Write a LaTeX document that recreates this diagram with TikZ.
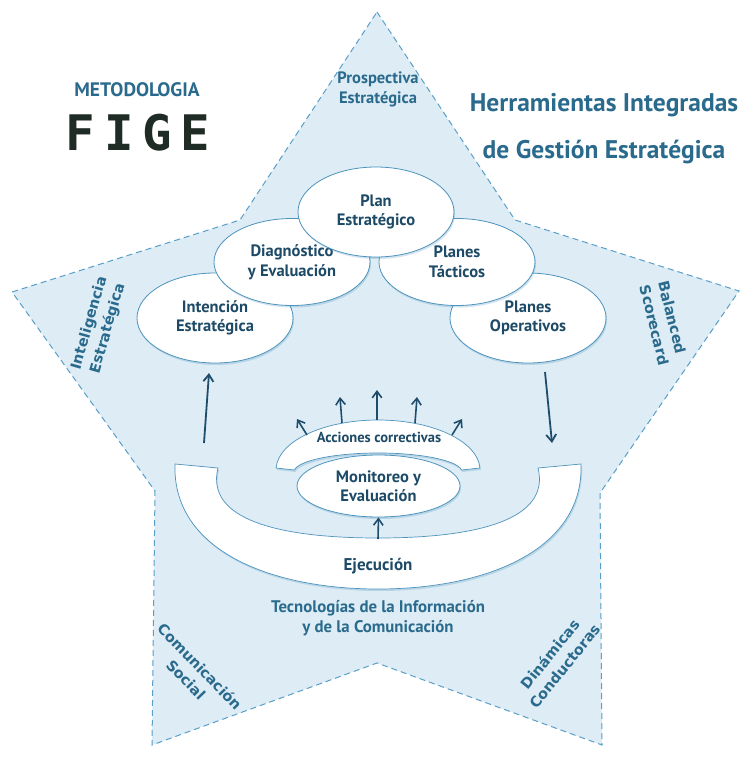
\documentclass[tikz,border=0pt]{standalone}
\usepackage{fontspec}
\setmainfont{PT Sans}
\newfontfamily\fuenteRot{DejaVu Sans}
\newfontfamily\fuenteFige[WordSpace=0.3]{DejaVu Sans Mono}
\usetikzlibrary{shapes.geometric, arrows.meta, shadows}

\definecolor{fondoEstrella}{HTML}{DDECF5}
\definecolor{bordeEstrella}{HTML}{5A9FC8}
\definecolor{bordeElipse}{HTML}{4D93BC}
\definecolor{textoOscuro}{HTML}{1D4A66}
\definecolor{textoAzul}{HTML}{2A6A8C}
\definecolor{colFlecha}{HTML}{1E4D6B}
\definecolor{colFige}{HTML}{1F2B25}

\begin{document}
\begin{tikzpicture}[x=1pt, y=-1pt,
    elipse/.style={ellipse, draw=bordeElipse, line width=0.8pt, fill=white, minimum width=156pt, minimum height=90pt, inner sep=0pt, align=center, text=textoOscuro, font=\fontsize{16.5}{19.5}\selectfont\bfseries, drop shadow={fill=bordeElipse, opacity=0.25, shadow xshift=1pt, shadow yshift=-2pt}},
    banda/.style={fill=white, draw=bordeElipse, line width=0.7pt, drop shadow={fill=bordeElipse, opacity=0.25, shadow xshift=1pt, shadow yshift=-2pt}},
    flecha/.style={draw=colFlecha, line width=1.8pt, -{Straight Barb[length=7pt, width=10pt]}},
    flechaFina/.style={draw=colFlecha, line width=1.6pt, -{Straight Barb[length=6.5pt, width=9.5pt]}},
    etqEstrella/.style={font=\fontsize{16.5}{20}\selectfont\bfseries, text=textoAzul, align=center},
    etqRot/.style={font=\fuenteRot\fontsize{14.5}{19}\selectfont\bfseries, text=textoAzul, align=center},
    titulo/.style={font=\fontsize{25.5}{30}\selectfont\bfseries, text=textoAzul, anchor=base}
  ]
  \useasboundingbox (0,0) rectangle (740,765);

  % --- estrella de fondo ---
  \filldraw[fill=fondoEstrella, draw=bordeEstrella, line width=1pt, dash pattern=on 6pt off 4pt]
    (377,12) -- (515,220) -- (739,291) -- (600,493) -- (602,745) -- (377,663)
    -- (152,745) -- (155,491) -- (12,292) -- (240,220) -- cycle;

  % --- titulos ---
  \node[font=\fontsize{19.5}{24}\selectfont\bfseries, text=textoAzul] (metodologia) at (137,90) {METODOLOGIA};
  \node[font=\fuenteFige\fontsize{49}{49}\selectfont\bfseries, text=colFige] (fige) at (138,133) {F I G E};
  \node[titulo] (herramientas) at (604,112) {Herramientas Integradas};
  \node[titulo] (gestion) at (604,158) {de Gestión Estratégica};

  % --- etiquetas de las puntas ---
  \node[etqEstrella] (prospectiva) at (378,89) {Prospectiva\\Estratégica};
  \node[etqRot, rotate=74] (inteligencia) at (99,326) {Inteligencia\\Estratégica};
  \node[etqRot, rotate=-76, align=left] (balanced) at (664,323) {Balanced\\Scorecard};
  \node[etqRot, rotate=-46] (comunicacion) at (193,673) {Comunicación\\Social};
  \node[etqRot, rotate=51] (dinamicas) at (557,660) {Dinámicas\\Conductoras};
  \node[etqEstrella, font=\fontsize{16.8}{20}\selectfont\bfseries] (tic) at (378,618) {Tecnologías de la Información\\y de la Comunicación};

  % --- banda de ejecucion ---
  \path[banda] (175,464) .. controls (172,550) and (270,589) .. (378,589)
    .. controls (486,589) and (584,550) .. (581,464) -- (538,468)
    .. controls (551,520) and (476,538) .. (378,538)
    .. controls (280,538) and (205,520) .. (218,468) -- cycle;
  \node[font=\fontsize{17}{20}\selectfont\bfseries, text=textoOscuro] (ejecucion) at (378,566) {Ejecución};

  % --- banda de acciones correctivas ---
  \path[banda] (276.1,468) arc[start angle=182.3, end angle=357.7, x radius=102, y radius=50]
    -- (461.5,470) arc[start angle=354, end angle=186, x radius=84, y radius=19] -- cycle;
  \node[font=\fontsize{14.5}{17}\selectfont\bfseries, text=textoOscuro] (acciones) at (379,437) {Acciones correctivas};

  % --- elipses del ciclo ---
  \node[elipse] (intencion) at (215,318) {Intención\\Estratégica};
  \node[elipse] (operativos) at (528,318) {Planes\\Operativos};
  \node[elipse, minimum height=87pt] (diagnostico) at (292,262) {Diagnóstico\\y Evaluación};
  \node[elipse, minimum height=87pt] (tacticos) at (457,262) {Planes\\Tácticos};
  \node[elipse] (plan) at (376,212) {Plan\\Estratégico};
  \node[elipse, minimum width=163pt, minimum height=62pt] (monitoreo) at (378.5,486) {Monitoreo y\\Evaluación};

  % --- flechas ---
  \coordinate (subeIzq) at (204,443);
  \coordinate (llegaIzq) at (209,373);
  \coordinate (saleDer) at (545,372);
  \coordinate (bajaDer) at (552,443);
  \coordinate (ejeCentro) at (378,539);
  \draw[flecha] (subeIzq) -- (llegaIzq);
  \draw[flecha] (saleDer) -- (bajaDer);
  \draw[flechaFina] (ejeCentro) -- (monitoreo.south);
  \foreach \i/\xa/\ya/\xb/\yb in {1/307/435/297/419, 2/342/423/340/397, 3/377/420/377/390, 4/415/423/417/397, 5/452/435/462/419}{
    \coordinate (accBase\i) at (\xa,\ya);
    \coordinate (accPunta\i) at (\xb,\yb);
    \draw[flechaFina] (accBase\i) -- (accPunta\i);
  }
\end{tikzpicture}
\end{document}
